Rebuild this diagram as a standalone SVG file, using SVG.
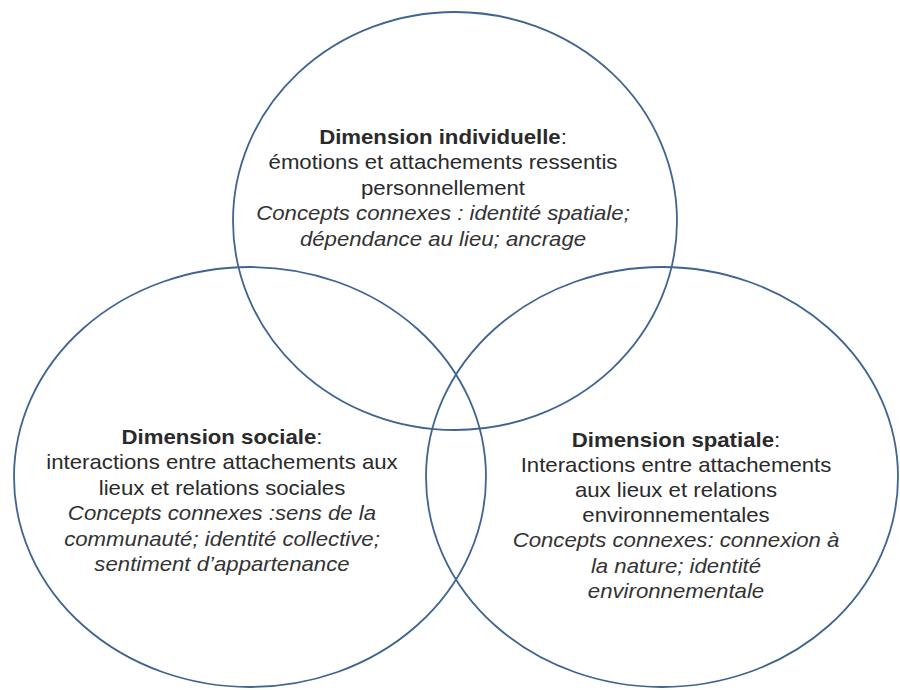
<svg xmlns="http://www.w3.org/2000/svg" width="900" height="690" viewBox="0 0 900 690">
<style>
  .ring { fill: none; stroke: #3f6490; stroke-width: 1.8; }
  text { font-family: "Liberation Sans", Arial, sans-serif; font-size: 20px; fill: #2a2a2a; text-anchor: middle; }
  .b { font-weight: bold; }
  .i { font-style: italic; fill: #333; }
</style>
<rect width="900" height="690" fill="#ffffff"/>
<g id="connectors"></g>
<g id="node-individuelle">
  <ellipse class="ring" cx="455" cy="221" rx="222" ry="209"/>
  <g transform="translate(443,0) scale(1.11,1)">
    <text x="0" y="144"><tspan class="b">Dimension individuelle</tspan>:</text>
    <text x="0" y="169.5">émotions et attachements ressentis</text>
    <text x="0" y="195">personnellement</text>
    <text class="i" x="0" y="220.5">Concepts connexes : identité spatiale;</text>
    <text class="i" x="0" y="246">dépendance au lieu; ancrage</text>
  </g>
</g>
<g id="node-sociale">
  <ellipse class="ring" cx="250" cy="477" rx="236" ry="210"/>
  <g transform="translate(222,0) scale(1.11,1)">
    <text x="0" y="444"><tspan class="b">Dimension sociale</tspan>:</text>
    <text x="0" y="469.5">interactions entre attachements aux</text>
    <text x="0" y="495">lieux et relations sociales</text>
    <text class="i" x="0" y="520.5">Concepts connexes :sens de la</text>
    <text class="i" x="0" y="546">communauté; identité collective;</text>
    <text class="i" x="0" y="571.5">sentiment d’appartenance</text>
  </g>
</g>
<g id="node-spatiale">
  <ellipse class="ring" cx="662" cy="477" rx="236" ry="210"/>
  <g transform="translate(676,0) scale(1.11,1)">
    <text x="0" y="447"><tspan class="b">Dimension spatiale</tspan>:</text>
    <text x="0" y="472">Interactions entre attachements</text>
    <text x="0" y="497">aux lieux et relations</text>
    <text x="0" y="522.5">environnementales</text>
    <text class="i" x="0" y="547.5">Concepts connexes: connexion à</text>
    <text class="i" x="0" y="573">la nature; identité</text>
    <text class="i" x="0" y="598">environnementale</text>
  </g>
</g>
</svg>
